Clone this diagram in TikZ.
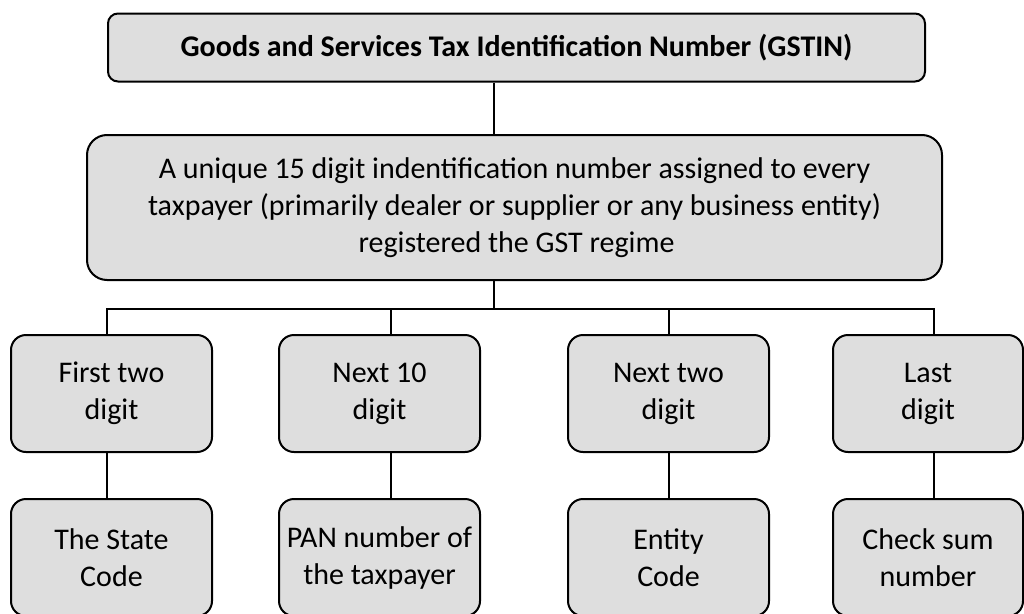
\documentclass[tikz,border=0pt]{standalone}
\usepackage{fontspec}
\setmainfont{Carlito}
\usepackage{tikz}
\usetikzlibrary{positioning, calc}
\definecolor{boxgray}{RGB}{222,222,222}

\begin{document}
\begin{tikzpicture}[
    x=1pt, y=-1pt,
    box/.style={draw, fill=boxgray, line width=2pt, rounded corners=15pt, align=center, inner sep=0pt, minimum width=201pt, minimum height=117pt, font=\fontsize{30}{37}\selectfont},
    link/.style={line width=2pt}
]
    \useasboundingbox (0,0) rectangle (1024,613);
    \clip (0,0) rectangle (1024,613);

    \node[box, rounded corners=10pt, minimum width=817pt, minimum height=68pt, font=\fontsize{30}{37}\selectfont\bfseries] (gstin) at (516.5,47.5) {Goods and Services Tax Identification Number (GSTIN)};
    \node[box, rounded corners=20pt, minimum width=855pt, minimum height=145pt] (unique) at (514.5,207.5) {A unique 15 digit indentification number assigned to every\\taxpayer (primarily dealer or supplier or any business entity)\\registered the GST regime\hspace*{-4pt}};

    \node[box] (first) at (111.5,393.5) {First two\\digit};
    \node[box] (pan) at (379.5,393.5) {Next 10\\digit};
    \node[box] (entity) at (668.5,393.5) {Next two\\digit};
    \node[box, minimum width=190pt] (last) at (928,393.5) {Last\\digit};

    \node[box] (state) at (111.5,557.5) {The State\\Code};
    \node[box] (panno) at (379.5,557.5) {PAN number of\\the taxpayer};
    \node[box] (entcode) at (668.5,557.5) {Entity\\Code};
    \node[box, minimum width=190pt] (checksum) at (928,557.5) {Check sum\\number};

    \coordinate (hub) at (494,309);
    \draw[link] (gstin.south -| hub) -- (unique.north -| hub);
    \draw[link] (unique.south -| hub) -- (hub);
    \draw[link] ([xshift=-4.5pt]first.north) |- (hub) -| ([xshift=6pt]last.north);
    \draw[link] ([xshift=11.5pt]pan.north) -- ([xshift=11.5pt]pan.north |- hub);
    \draw[link] ([xshift=0.5pt]entity.north) -- ([xshift=0.5pt]entity.north |- hub);

    \draw[link] ([xshift=-4.5pt]first.south) -- ([xshift=-4.5pt]state.north);
    \draw[link] ([xshift=11.5pt]pan.south) -- ([xshift=11.5pt]panno.north);
    \draw[link] ([xshift=0.5pt]entity.south) -- ([xshift=0.5pt]entcode.north);
    \draw[link] ([xshift=6pt]last.south) -- ([xshift=6pt]checksum.north);
\end{tikzpicture}
\end{document}
